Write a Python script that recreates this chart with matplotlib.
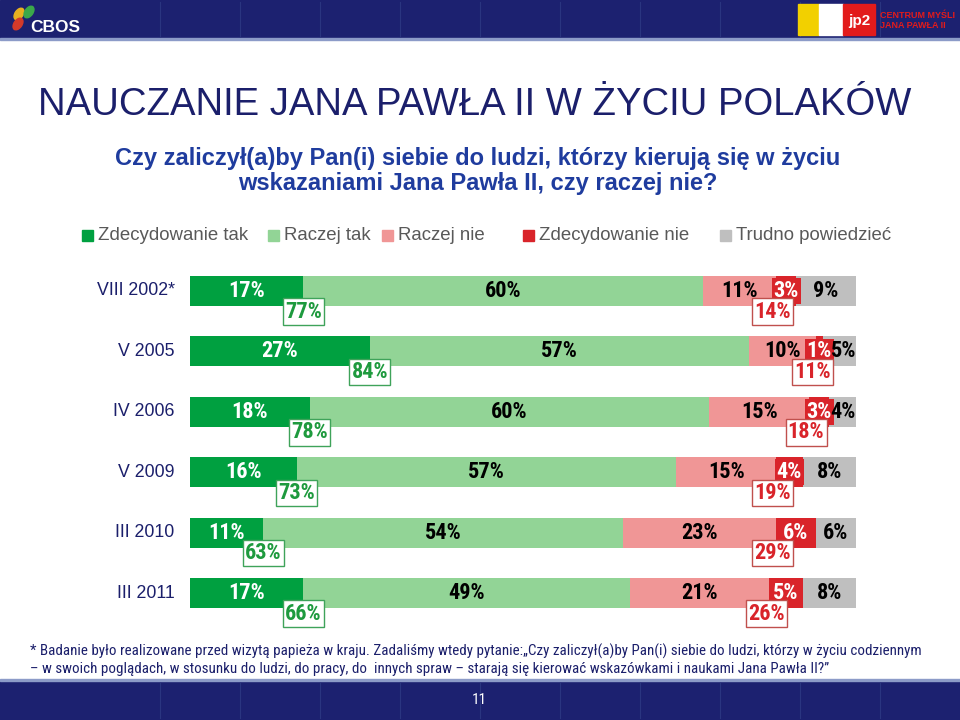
import matplotlib
matplotlib.use("Agg")
import matplotlib.pyplot as plt
from matplotlib.patches import Rectangle, Ellipse

plt.rcParams["font.family"] = ["Liberation Sans", "DejaVu Sans"]
NARROW = ["Arial Narrow", "Liberation Sans Narrow", "Roboto Condensed", "Archivo Narrow",
          "PT Sans Narrow", "Liberation Sans", "DejaVu Sans"]

# --- data ---
waves = ["VIII 2002*", "V 2005", "IV 2006", "V 2009", "III 2010", "III 2011"]
answers = ["Zdecydowanie tak", "Raczej tak", "Raczej nie", "Zdecydowanie nie", "Trudno powiedzieć"]
def_yes = [17, 27, 18, 16, 11, 17]
rather_yes = [60, 57, 60, 57, 54, 49]
rather_no = [11, 10, 15, 15, 23, 21]
def_no = [3, 1, 3, 4, 6, 5]
hard_to_say = [9, 5, 4, 8, 6, 8]
sum_yes = [77, 84, 78, 73, 63, 66]
sum_no = [14, 11, 18, 19, 29, 26]

colors = ["#00A040", "#92D496", "#F09696", "#D9242A", "#BFBFBF"]
label_colors = ["white", "black", "black", "white", "black"]
NAVY = "#1B1F6B"
LBL = 16

fig = plt.figure(figsize=(9.6, 7.2), dpi=100)

# background axes in pixel coordinates for slide decoration
bg = fig.add_axes([0, 0, 1, 1])
bg.set_xlim(0, 960)
bg.set_ylim(720, 0)
bg.axis("off")

# header band
bg.add_patch(Rectangle((0, 0), 960, 38, color="#1C2170", zorder=0))
bg.add_patch(Rectangle((0, 38), 960, 2, color="#8C9BC8", zorder=0))
for x0 in range(160, 960, 80):
    bg.plot([x0, x0], [2, 36], color="#2A3580", lw=0.8, zorder=0.5)
bg.add_patch(Ellipse((19, 14), 8, 13, angle=35, color="#E8B020"))
bg.add_patch(Ellipse((29, 12), 8, 13, angle=35, color="#3BA84A"))
bg.add_patch(Ellipse((18, 24), 8, 13, angle=35, color="#D43A2A"))
bg.text(30, 27, "CBOS", color="white", fontsize=12.5, fontweight="bold", va="center", ha="left")
bg.add_patch(Rectangle((798, 4), 21, 31, color="#F2D000"))
bg.add_patch(Rectangle((819, 4), 24, 31, color="white"))
bg.add_patch(Rectangle((843, 4), 32, 31, color="#E21B1B"))
bg.text(859, 21, "jp2", color="white", fontsize=11, fontweight="bold", ha="center", va="center")
bg.text(880, 15, "CENTRUM MYŚLI", color="#E21B1B", fontsize=6.5, fontweight="bold", va="center")
bg.text(880, 25, "JANA PAWŁA II", color="#E21B1B", fontsize=6.5, fontweight="bold", va="center")

# footer band
bg.add_patch(Rectangle((0, 681), 960, 39, color="#1C2170", zorder=0))
bg.add_patch(Rectangle((0, 679), 960, 2, color="#8C9BC8", zorder=0))
for x0 in range(160, 960, 80):
    bg.plot([x0, x0], [683, 718], color="#2A3580", lw=0.8, zorder=0.5)
bg.text(479, 700, "11", color="white", fontsize=11, ha="center", va="center", family=NARROW)

# titles
bg.text(38, 105, "NAUCZANIE JANA PAWŁA II W ŻYCIU POLAKÓW", color=NAVY,
        fontsize=27.5, ha="left", va="center")
bg.text(478, 171, "Czy zaliczył(a)by Pan(i) siebie do ludzi, którzy kierują się w życiu\n"
        "wskazaniami Jana Pawła II, czy raczej nie?", color="#1F3C9E",
        fontsize=17, fontweight="bold", ha="center", va="center", linespacing=1.1)

# legend
leg_x = [82, 268, 382, 523, 720]
for lx, name, c in zip(leg_x, answers, colors):
    bg.add_patch(Rectangle((lx, 230), 11, 11, color=c))
    bg.text(lx + 16, 236, name, color="#595959", fontsize=13.4, ha="left", va="center")

# footnote
bg.text(30, 651, "* Badanie było realizowane przed wizytą papieża w kraju. Zadaliśmy wtedy pytanie:„Czy zaliczył(a)by Pan(i) siebie do ludzi, którzy w życiu codziennym",
        color=NAVY, fontsize=10.8, ha="left", va="center", family=NARROW)
bg.text(30, 669, "– w swoich poglądach, w stosunku do ludzi, do pracy, do  innych spraw – starają się kierować wskazówkami i naukami Jana Pawła II?”",
        color=NAVY, fontsize=10.8, ha="left", va="center", family=NARROW)

# chart axes: x 0-100% maps to pixels 190-856
ax = fig.add_axes([190 / 960, 1 - 640 / 720, 666 / 960, 380 / 720])
ax.set_xlim(0, 100)
ax.set_ylim(5.778, -0.513)
ax.axis("off")

series = [def_yes, rather_yes, rather_no, def_no, hard_to_say]
for i, wave in enumerate(waves):
    left = 0
    for k, vals in enumerate(series):
        v = vals[i]
        ax.barh(i, v, left=left, height=0.5, color=colors[k], linewidth=0)
        if k == 3:
            ax.text(left + v / 2, i, f"{v}%", color="white", fontsize=LBL, fontweight="bold",
                    ha="center", va="center", family=NARROW,
                    bbox=dict(boxstyle="square,pad=0.08", fc=colors[3], ec="none"))
        elif k == 4 and v < 6:
            ax.text(100, i, f"{v}%", color=label_colors[k], fontsize=LBL,
                    fontweight="bold", ha="right", va="center", family=NARROW)
        else:
            ax.text(left + v / 2, i, f"{v}%", color=label_colors[k], fontsize=LBL,
                    fontweight="bold", ha="center", va="center", family=NARROW)
        left += v
    ax.text(-2.3, i, wave, color=NAVY, fontsize=12.8, ha="right", va="center")
    # summary boxes
    ax.text(def_yes[i], i + 0.34, f"{sum_yes[i]}%", color="#1E9A3E", fontsize=LBL,
            fontweight="bold", ha="center", va="center", family=NARROW,
            bbox=dict(boxstyle="square,pad=0.1", fc="white", ec="#3FA35A", lw=1))
    red_start = def_yes[i] + rather_yes[i] + rather_no[i]
    ax.text(red_start - 0.5, i + 0.34, f"{sum_no[i]}%", color="#D9242A", fontsize=LBL,
            fontweight="bold", ha="center", va="center", family=NARROW,
            bbox=dict(boxstyle="square,pad=0.1", fc="white", ec="#C0504D", lw=1))

fig.savefig("out.png", dpi=100)
